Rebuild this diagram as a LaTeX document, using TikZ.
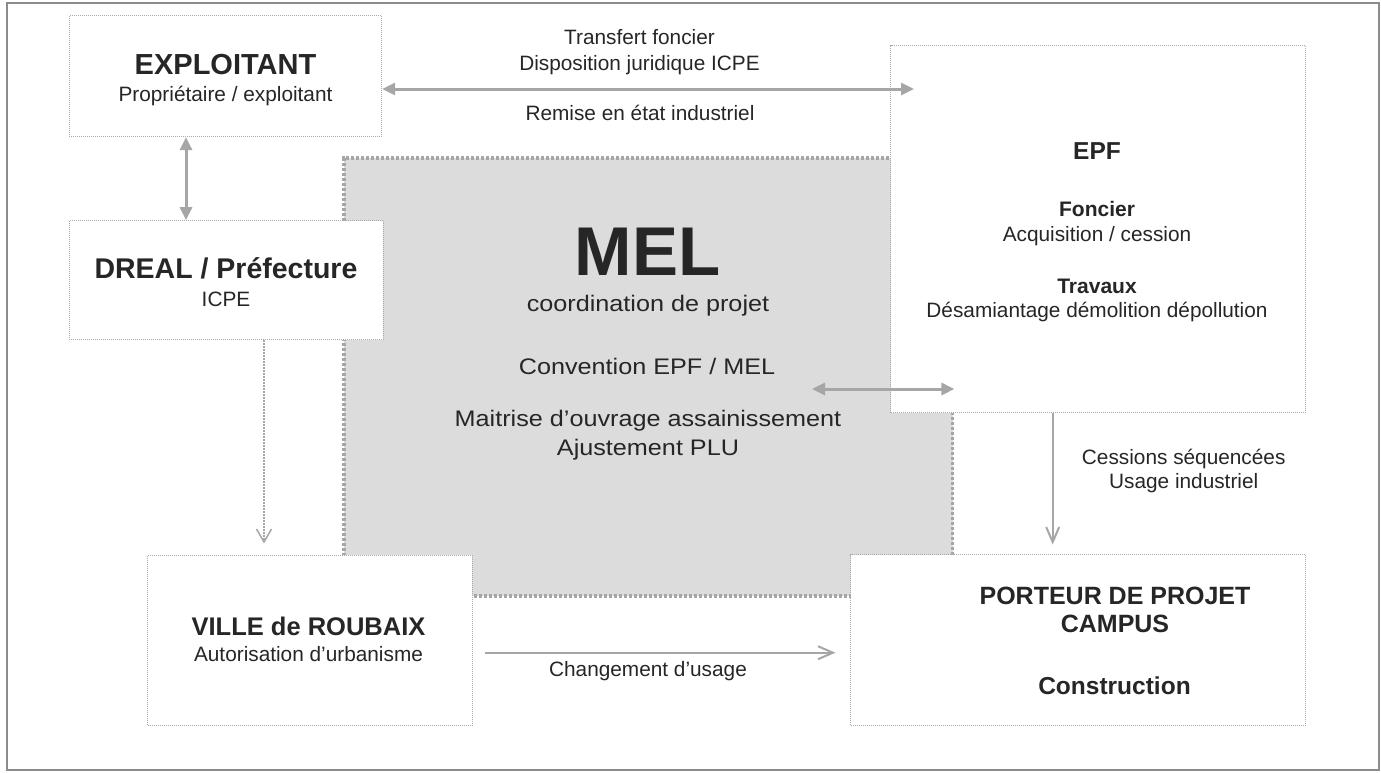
\documentclass[tikz,border=0pt]{standalone}
\usepackage{fontspec}
\setmainfont{Liberation Sans}
\newfontfamily\melfont[FakeStretch=1.12]{Liberation Sans}
\usetikzlibrary{arrows.meta}
\definecolor{ink}{HTML}{262626}
\definecolor{linegray}{HTML}{A6A6A6}
\definecolor{boxgray}{HTML}{ABABAB}
\definecolor{melfill}{HTML}{DCDCDC}
\definecolor{framegray}{HTML}{8C8C8C}

\begin{document}
\begin{tikzpicture}[x=1pt,y=-1pt]
    \tikzset{
        Box/.style = {draw=boxgray, fill=white, line width=1pt,
            dash pattern=on 1pt off 1pt, inner sep=0pt},
        MelBox/.style = {draw=linegray, fill=melfill, line width=3.5pt,
            dash pattern=on 3pt off 2pt, inner sep=0pt},
        Title/.style = {font=\bfseries\fontsize{#1}{#1}\selectfont,
            text=ink, anchor=base, inner sep=0pt},
        Body/.style = {font=\fontsize{20.8}{20.8}\selectfont,
            text=ink, anchor=base, inner sep=0pt},
        MelBody/.style = {font=\melfont\fontsize{22.5}{22.5}\selectfont,
            text=ink, anchor=base, inner sep=0pt},
        Link/.style = {draw=linegray, line width=3pt,
            {Triangle[length=13pt,width=12pt]}-{Triangle[length=13pt,width=12pt]}},
        Flow/.style = {draw=linegray, line width=2pt,
            -{Straight Barb[length=15pt,width=13pt]}},
        Hint/.style = {draw=linegray, line width=1.5pt,
            dash pattern=on 1.5pt off 1.5pt,
            -{Straight Barb[length=13pt,width=15pt]}}}
    \useasboundingbox (0,0) rectangle (1381,772);
    \draw[framegray, line width=2pt] (7,3) rectangle (1379,770);
    % boxes
    \node[MelBox, minimum width=608.7pt, minimum height=438pt] (mel) at (648.3,377) {};
    \node[Box, minimum width=312.4pt, minimum height=120.7pt] (exploitant) at (225.5,76.3) {};
    \node[Box, minimum width=314pt, minimum height=119.3pt] (dreal) at (226.3,280.3) {};
    \node[Box, minimum width=414.6pt, minimum height=367pt] (epf) at (1098,229.2) {};
    \node[Box, minimum width=324.6pt, minimum height=170pt] (ville) at (310,640) {};
    \node[Box, minimum width=455pt, minimum height=170.5pt] (porteur) at (1078.2,639.8) {};
    % texts
    \node[Title=29] (exploitant-name) at (225.5,74) {EXPLOITANT};
    \node[Body] (exploitant-role) at (225.5,101) {Propriétaire / exploitant};
    \node[Title=28.5] (dreal-name) at (226,278) {DREAL / Préfecture};
    \node[Body] (dreal-role) at (226,306) {ICPE};
    \node[Title=69] (mel-name) at (647.5,275) {MEL};
    \node[MelBody] (mel-role) at (648,311.7) {coordination de projet};
    \node[MelBody] (mel-conv) at (647,374) {Convention EPF / MEL};
    \node[MelBody] (mel-moa) at (648,426.7) {Maitrise d’ouvrage assainissement};
    \node[MelBody] (mel-plu) at (648,455) {Ajustement PLU};
    \node[Title=24.5] (epf-name) at (1097,159.3) {EPF};
    \node[Title=21] (epf-foncier) at (1097,216.7) {Foncier};
    \node[Body] (epf-acq) at (1097,241.7) {Acquisition / cession};
    \node[Title=21] (epf-travaux) at (1097,293.3) {Travaux};
    \node[Body] (epf-dem) at (1097,317.7) {Désamiantage démolition dépollution};
    \node[Title=25.5] (ville-name) at (308.5,635.7) {VILLE de ROUBAIX};
    \node[Body] (ville-role) at (308.5,661.7) {Autorisation d’urbanisme};
    \node[Title=25] (porteur-name) at (1115,604) {PORTEUR DE PROJET};
    \node[Title=25] (porteur-campus) at (1115,632.3) {CAMPUS};
    \node[Title=24.5] (porteur-role) at (1114.5,694) {Construction};
    % arrow labels
    \node[Body] (transfert-a) at (639.5,44.3) {Transfert foncier};
    \node[Body] (transfert-b) at (639.5,70) {Disposition juridique ICPE};
    \node[Body] (transfert-c) at (640,120.7) {Remise en état industriel};
    \node[Body] (cession-a) at (1183.7,464) {Cessions séquencées};
    \node[Body] (cession-b) at (1183.7,488.3) {Usage industriel};
    \node[Body] (usage) at (648,676.7) {Changement d’usage};
    % connectors
    \coordinate (tf-tip) at (914,89);
    \coordinate (ed) at (186,0);
    \coordinate (conv-tail) at (812,389);
    \coordinate (cess) at (1052.7,0);
    \coordinate (dv) at (264,0);
    \coordinate (chg) at (0,652.7);
    \draw[Link] (exploitant.east |- tf-tip) -- (tf-tip);
    \draw[Link] (exploitant.south -| ed) -- (dreal.north -| ed);
    \draw[Link] (conv-tail) -- (mel.east |- conv-tail);
    \draw[Flow, shorten >=9.5pt] (epf.south -| cess) -- (porteur.north -| cess);
    \draw[Hint, shorten >=11pt] (dreal.south -| dv) -- (ville.north -| dv);
    \draw[Flow, shorten <=11.7pt, shorten >=14.7pt] (ville.east |- chg) -- (porteur.west |- chg);
\end{tikzpicture}
\end{document}
